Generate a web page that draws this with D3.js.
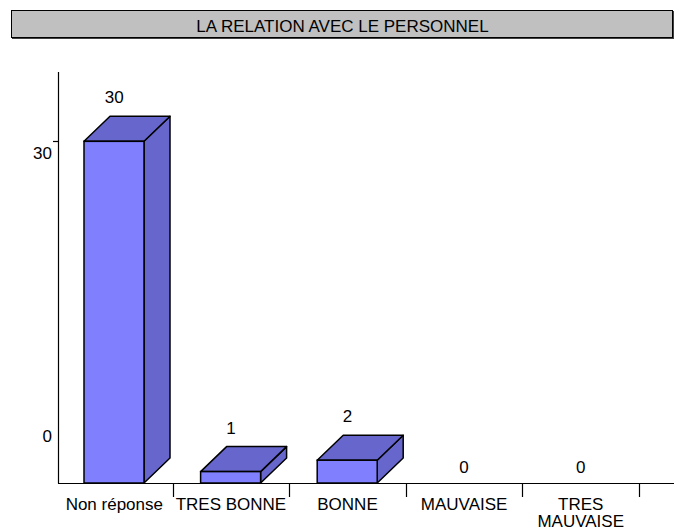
<!DOCTYPE html>
<html>
<head>
<meta charset="utf-8">
<script src="https://cdn.jsdelivr.net/npm/d3@7"></script>
<style>
  body { margin: 0; background: #fff; }
  text { font-family: "Liberation Sans", Arial, sans-serif; font-size: 17px; fill: #000; }
</style>
</head>
<body>
<div id="chart"></div>
<script>
  var title = "LA RELATION AVEC LE PERSONNEL";
  var categories = ["Non réponse", "TRES BONNE", "BONNE", "MAUVAISE", "TRES MAUVAISE"];
  var values = [30, 1, 2, 0, 0];
  var yTicks = [0, 30];

  var width = 675, height = 529;
  var depthX = 26, depthY = 25;   // 3d offset of the boxes
  var frontW = 60;

  var svg = d3.select("#chart").append("svg")
    .attr("width", width)
    .attr("height", height);

  // title bar
  svg.append("rect")
    .attr("x", 12).attr("y", 11)
    .attr("width", 662).attr("height", 28)
    .attr("fill", "#404040");
  svg.append("rect")
    .attr("x", 11.5).attr("y", 10.5)
    .attr("width", 661).attr("height", 27)
    .attr("fill", "#c0c0c0")
    .attr("stroke", "#000")
    .attr("stroke-width", 1);
  svg.append("text")
    .attr("x", 342.5).attr("y", 32)
    .attr("text-anchor", "middle")
    .text(title);

  var x = d3.scaleBand()
    .domain(categories)
    .range([56, 639])
    .padding(0);

  var y = d3.scaleLinear()
    .domain([0, 36])
    .range([483, 73]);

  // boxes
  var bars = svg.append("g").selectAll("g")
    .data(values.map(function(v, i) { return { name: categories[i], value: v }; })
      .filter(function(d) { return d.value > 0; }))
    .enter().append("g");

  bars.append("path")   // side
    .attr("d", function(d) {
      var x1 = x(d.name) + 28 + frontW, y0 = y(0), y1 = y(d.value);
      return "M" + x1 + "," + y0 + "L" + (x1 + depthX) + "," + (y0 - depthY) +
        "L" + (x1 + depthX) + "," + (y1 - depthY) + "L" + x1 + "," + y1 + "Z";
    })
    .attr("fill", "#6666cc")
    .attr("stroke", "#000")
    .attr("stroke-width", 1.5)
    .attr("stroke-linejoin", "round");

  bars.append("path")   // top
    .attr("d", function(d) {
      var x0 = x(d.name) + 28, y1 = y(d.value);
      return "M" + x0 + "," + y1 + "L" + (x0 + depthX) + "," + (y1 - depthY) +
        "L" + (x0 + frontW + depthX) + "," + (y1 - depthY) + "L" + (x0 + frontW) + "," + y1 + "Z";
    })
    .attr("fill", "#6666cc")
    .attr("stroke", "#000")
    .attr("stroke-width", 1.5)
    .attr("stroke-linejoin", "round");

  bars.append("rect")   // front
    .attr("x", function(d) { return x(d.name) + 28; })
    .attr("y", function(d) { return y(d.value); })
    .attr("width", frontW)
    .attr("height", function(d) { return y(0) - y(d.value); })
    .attr("fill", "#8080ff")
    .attr("stroke", "#000")
    .attr("stroke-width", 1.5);

  // value labels
  svg.append("g").selectAll("text")
    .data(values)
    .enter().append("text")
    .attr("x", function(d, i) { return x(categories[i]) + x.bandwidth() / 2; })
    .attr("y", function(d) { return d > 0 ? y(d) - 38 : y(0) - 10; })
    .attr("text-anchor", "middle")
    .text(function(d) { return d; });

  // axes
  svg.append("line")
    .attr("x1", 58.5).attr("x2", 58.5)
    .attr("y1", 72).attr("y2", 483.5)
    .attr("stroke", "#000").attr("stroke-width", 1.2);
  svg.append("line")
    .attr("x1", 58).attr("x2", 674)
    .attr("y1", 483.5).attr("y2", 483.5)
    .attr("stroke", "#000").attr("stroke-width", 1.2);

  // y tick (only 30 gets a mark) and labels
  yTicks.forEach(function(t) {
    if (t > 0) {
      svg.append("line")
        .attr("x1", 53).attr("x2", 58.5)
        .attr("y1", Math.round(y(t)) + 0.5).attr("y2", Math.round(y(t)) + 0.5)
        .attr("stroke", "#000").attr("stroke-width", 1.2);
    }
    svg.append("text")
      .attr("x", 52)
      .attr("y", t > 0 ? y(t) + 18 : y(t) - 41)
      .attr("text-anchor", "end")
      .text(t);
  });

  // x ticks at band boundaries
  svg.append("g").selectAll("line")
    .data(categories.slice(1).concat([null]))
    .enter().append("line")
    .attr("x1", function(d, i) { return Math.round(x(categories[i]) + x.bandwidth()) + 0.5; })
    .attr("x2", function(d, i) { return Math.round(x(categories[i]) + x.bandwidth()) + 0.5; })
    .attr("y1", 483.5).attr("y2", 497)
    .attr("stroke", "#000").attr("stroke-width", 1.2);

  // category labels (wrap "TRES MAUVAISE")
  var lab = svg.append("g").selectAll("text")
    .data(categories)
    .enter().append("text")
    .attr("text-anchor", "middle")
    .attr("x", function(d) { return x(d) + x.bandwidth() / 2; })
    .attr("y", 510);
  lab.each(function(d) {
    var t = d3.select(this);
    var cx = x(d) + x.bandwidth() / 2;
    if (d === "TRES MAUVAISE") {
      t.append("tspan").attr("x", cx).attr("y", 510).text("TRES");
      t.append("tspan").attr("x", cx).attr("y", 527).text("MAUVAISE");
    } else {
      t.text(d);
    }
  });
</script>
</body>
</html>
